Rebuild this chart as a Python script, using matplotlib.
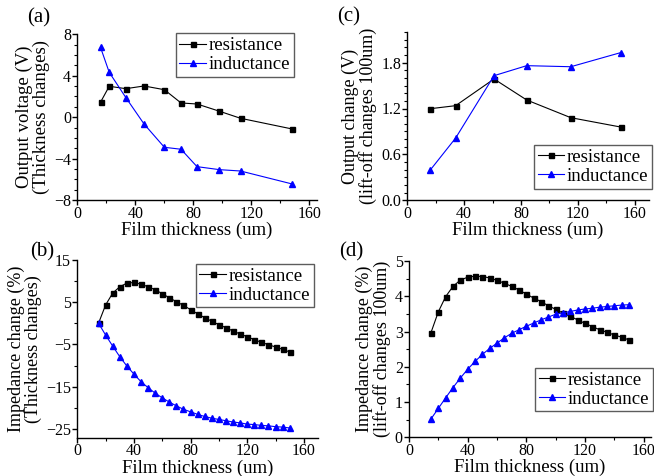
import matplotlib
matplotlib.use("Agg")
import matplotlib.pyplot as plt
from matplotlib.ticker import MultipleLocator, FormatStrFormatter

plt.rcParams['font.family'] = ['Liberation Serif', 'DejaVu Serif']

# ---------------- data ----------------
# (a) output voltage vs thickness
a_x = [16, 22, 33.5, 46, 60, 71.5, 82.5, 98, 112.5, 148]
a_res = [1.44, 2.98, 2.75, 3.01, 2.65, 1.37, 1.27, 0.57, -0.11, -1.14]
a_ind = [6.74, 4.33, 1.88, -0.66, -2.91, -3.10, -4.78, -5.07, -5.20, -6.45]

# (c) output change, lift-off 100um
c_x = [16, 34, 61, 84, 115, 150]
c_res = [1.197, 1.237, 1.586, 1.311, 1.08, 0.958]
c_ind = [0.392, 0.814, 1.629, 1.76, 1.746, 1.93]

# (b) impedance change vs thickness
bd_x = [15, 20, 25, 30, 35, 40, 45, 50, 55, 60, 65, 70, 75, 80,
        85, 90, 95, 100, 105, 110, 115, 120, 125, 130, 135, 140, 145, 150]
b_res = [0, 4.3, 7.1, 8.6, 9.45, 9.6, 9.2, 8.6, 7.9, 6.96, 6.0, 5.07, 4.2, 3.2,
         2.2, 1.3, 0.45, -0.35, -1.06, -1.84, -2.55, -3.18, -3.89, -4.5, -5.07, -5.61, -6.15, -6.79]
b_ind = [0, -2.8, -5.4, -7.9, -10.1, -12.0, -13.8, -15.2, -16.5, -17.6, -18.6, -19.5, -20.3, -20.9,
         -21.5, -22.0, -22.4, -22.7, -23.0, -23.3, -23.5, -23.8, -23.9, -24.1, -24.2, -24.4, -24.5, -24.7]

# (d) impedance change, lift-off 100um
d_res = [2.97, 3.56, 3.99, 4.28, 4.46, 4.54, 4.57, 4.56, 4.52, 4.45, 4.37, 4.28, 4.18, 4.06,
         3.95, 3.85, 3.73, 3.63, 3.52, 3.43, 3.33, 3.23, 3.14, 3.05, 2.98, 2.90, 2.84, 2.76]
d_ind = [0.52, 0.82, 1.12, 1.41, 1.68, 1.93, 2.15, 2.35, 2.52, 2.67, 2.82, 2.95, 3.05, 3.15,
         3.24, 3.33, 3.41, 3.49, 3.53, 3.57, 3.61, 3.64, 3.66, 3.69, 3.71, 3.73, 3.75, 3.76]

labels = ['resistance', 'inductance']
xlabel = 'Film thickness (um)'

W, H = 654, 476
fig = plt.figure(figsize=(W / 100, H / 100), dpi=100)


def add_ax(left, right, top, bottom):
    return fig.add_axes([left / W, 1 - bottom / H, (right - left) / W, (bottom - top) / H])


BLUE = '#0000ff'


def style(ax, xlim, ylim, ymaj, ymin, yfmt=None):
    ax.set_xlim(*xlim)
    ax.set_ylim(*ylim)
    for s in ['top', 'right']:
        ax.spines[s].set_visible(False)
    for s in ['left', 'bottom']:
        ax.spines[s].set_linewidth(1.0)
    ax.xaxis.set_major_locator(MultipleLocator(40))
    ax.xaxis.set_minor_locator(MultipleLocator(20))
    ax.yaxis.set_major_locator(MultipleLocator(ymaj))
    ax.yaxis.set_minor_locator(MultipleLocator(ymin))
    ax.tick_params(which='major', direction='out', length=3.5, width=1, labelsize=11.5, pad=1)
    ax.tick_params(axis='x', which='major', pad=0.5)
    ax.tick_params(which='minor', direction='out', length=2, width=0.8)
    if yfmt:
        ax.yaxis.set_major_formatter(yfmt)
    ax.set_xlabel(xlabel, fontsize=13.5, labelpad=0)


def plot_pair(ax, x, r, i, left_px, top_px):
    ax.plot(x, r, color='black', lw=0.8, marker='s', ms=3.6, label=labels[0])
    ax.plot(x, i, color=BLUE, lw=0.8, marker='^', ms=4.8, label=labels[1])
    leg = ax.legend(loc='upper left', bbox_to_anchor=(left_px / W, 1 - top_px / H),
                    bbox_transform=fig.transFigure, fontsize=13.5, frameon=True, fancybox=False,
                    borderpad=0.2, handlelength=1.4, handletextpad=0.15, labelspacing=0.1,
                    borderaxespad=0.0)
    leg.get_frame().set_edgecolor('#333333')
    leg.get_frame().set_linewidth(1.0)


# (a)
axa = add_ax(77.3, 316.7, 34.3, 200)
plot_pair(axa, a_x, a_res, a_ind, 175.7, 33.3)
style(axa, (0, 165), (-8, 8), 4, 1)
axa.set_ylabel('Output voltage (V)\n(Thickness changes)', fontsize=13.5, labelpad=3, linespacing=1.0)
fig.text(27 / W, 1 - 22 / H, '(a)', fontsize=15)

# (c)
axc = add_ax(407.3, 649, 32, 200.3)
plot_pair(axc, c_x, c_res, c_ind, 534, 145)
style(axc, (0, 170), (0, 2.2), 0.6, 0.1, yfmt=FormatStrFormatter('%.1f'))
axc.set_ylabel('Output change (V)\n(lift-off changes 100um)', fontsize=13, labelpad=3, linespacing=1.0)
fig.text(337 / W, 1 - 21 / H, '(c)', fontsize=15)

# (b)
axb = add_ax(77.3, 318, 259.6, 437.7)
plot_pair(axb, bd_x, b_res, b_ind, 195.7, 263.7)
style(axb, (0, 170), (-27, 15), 10, 5)
axb.set_yticks([15, 5, -5, -15, -25])
axb.set_ylabel('Impedance change (%)\n(Thickness changes)', fontsize=13, labelpad=3, linespacing=1.0)
fig.text(30 / W, 1 - 256 / H, '(b)', fontsize=15)

# (d)
axd = add_ax(409, 651, 261, 437.3)
plot_pair(axd, bd_x, d_res, d_ind, 535, 367.7)
style(axd, (0, 165), (0, 5), 1, 0.5)
axd.set_ylabel('Impedance change (%)\n(lift-off changes 100um)', fontsize=13, labelpad=3, linespacing=1.0)
fig.text(339 / W, 1 - 256 / H, '(d)', fontsize=15)

fig.savefig('out.png', dpi=100)
